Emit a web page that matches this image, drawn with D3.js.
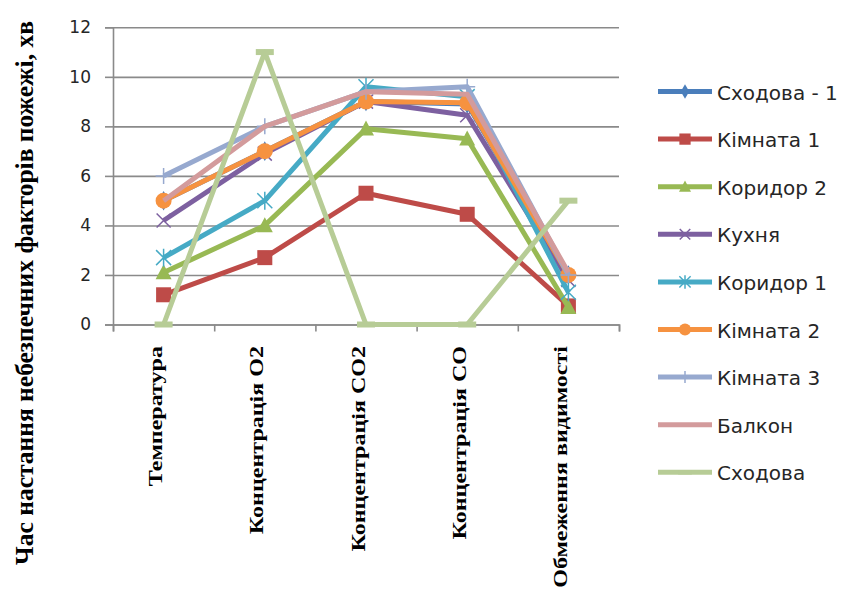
<!DOCTYPE html>
<html>
<head>
<meta charset="utf-8">
<script src="https://cdn.jsdelivr.net/npm/d3@7"></script>
<style>
  html, body { margin: 0; padding: 0; background: #ffffff; }
  svg { display: block; }
</style>
</head>
<body>
<svg id="chart" width="844" height="593"></svg>
<script>
// Categories (hazard factors) along the x axis
const categories = ["Температура", "Концентрація О2", "Концентрація СО2", "Концентрація СО", "Обмеження видимості"];
const yTicks = [0, 2, 4, 6, 8, 10, 12];
const yTitle = "Час настання небезпечних факторів пожежі, хв";

// Series names (rooms) and time values, minutes
const seriesNames = ["Сходова - 1", "Кімната 1", "Коридор 2", "Кухня", "Коридор 1", "Кімната 2", "Кімната 3", "Балкон", "Сходова"];
const stairs1   = [5.0, 7.0, 9.0, 8.9, 2.0];
const room1     = [1.2, 2.7, 5.3, 4.45, 0.75];
const corridor2 = [2.1, 4.0, 7.9, 7.5, 0.7];
const kitchen   = [4.2, 6.9, 9.0, 8.45, 1.8];
const corridor1 = [2.7, 5.0, 9.6, 9.2, 1.3];
const room2     = [5.0, 7.0, 9.0, 8.95, 2.0];
const room3     = [6.0, 8.0, 9.4, 9.6, 2.0];
const balcony   = [5.0, 8.0, 9.4, 9.3, 2.1];
const stairs    = [0, 11, 0, 0, 5];

const seriesValues = [stairs1, room1, corridor2, kitchen, corridor1, room2, room3, balcony, stairs];
const colors  = ["#4a7ebb", "#be4b48", "#98b954", "#7d60a0", "#46aac5", "#f69240", "#97a9cf", "#d39b9c", "#b7cc96"];
const markers = ["diamond", "square", "triangle", "x", "star", "circle", "plus", "none", "dash"];

const svg = d3.select("#chart");
const plot = { left: 113, right: 619, top: 27.3, bottom: 324.5 };

const x = d3.scaleBand().domain(categories).range([plot.left, plot.right]);
const y = d3.scaleLinear().domain([0, 12]).range([plot.bottom, plot.top]);
const cx = c => x(c) + x.bandwidth() / 2;

const gridColor = "#8a8a8a";

// Horizontal gridlines
svg.append("g")
  .attr("transform", `translate(${plot.left},0)`)
  .call(d3.axisLeft(y).tickValues(yTicks).tickSize(-(plot.right - plot.left)).tickFormat(""))
  .call(g => g.select(".domain").remove())
  .call(g => g.selectAll(".tick line").attr("stroke", gridColor).attr("stroke-width", 1.6));

// Y axis with ticks and labels
svg.append("g")
  .attr("transform", `translate(${plot.left},0)`)
  .call(d3.axisLeft(y).tickValues(yTicks).tickSize(8).tickPadding(14))
  .call(g => g.select(".domain").attr("stroke", gridColor).attr("stroke-width", 1.6))
  .call(g => g.selectAll(".tick line").attr("stroke", gridColor).attr("stroke-width", 1.6))
  .call(g => g.selectAll(".tick text")
    .attr("font-family", "DejaVu Sans")
    .attr("font-size", 17)
    .attr("fill", "#262626"));

// X axis: line with tick marks at category boundaries
const boundaries = categories.map(c => x(c)).concat([plot.right]);
svg.append("g")
  .attr("transform", `translate(0,${plot.bottom})`)
  .call(d3.axisBottom(d3.scaleLinear().domain([plot.left, plot.right]).range([plot.left, plot.right]))
    .tickValues(boundaries).tickSize(7).tickFormat(""))
  .call(g => g.select(".domain").attr("stroke", gridColor).attr("stroke-width", 1.6))
  .call(g => g.selectAll(".tick line").attr("stroke", gridColor).attr("stroke-width", 1.6));

// Category labels, rotated and set in a tall serif
svg.append("g").selectAll("text")
  .data(categories)
  .join("text")
  .attr("transform", c => `translate(${cx(c) - 1.5},346) rotate(-90) scale(1.3,1)`)
  .attr("text-anchor", "end")
  .attr("font-family", "Liberation Serif")
  .attr("font-weight", "bold")
  .attr("font-size", 18.5)
  .attr("fill", "#000")
  .text(c => c);

// Y axis title
svg.append("text")
  .attr("transform", "translate(33,293) rotate(-90)")
  .attr("text-anchor", "middle")
  .attr("font-family", "Liberation Serif")
  .attr("font-weight", "bold")
  .attr("font-size", 25.5)
  .attr("fill", "#000")
  .text(yTitle);

// Marker drawing
function drawMarker(g, type, color, s) {
  const k = s;
  if (type === "diamond") {
    g.append("path").attr("d", d3.symbol(d3.symbolDiamond, 110 * k * k)()).attr("fill", color);
  } else if (type === "square") {
    g.append("rect").attr("x", -7.5 * k).attr("y", -7.5 * k).attr("width", 15 * k).attr("height", 15 * k).attr("fill", color);
  } else if (type === "triangle") {
    const h = 15 * k, w = 16 * k;
    g.append("path").attr("d", `M0,${-h * 0.55}L${w / 2},${h * 0.45}L${-w / 2},${h * 0.45}Z`).attr("fill", color);
  } else if (type === "circle") {
    g.append("circle").attr("r", 8 * k).attr("fill", color);
  } else if (type === "x") {
    const r = 7 * k;
    g.append("path").attr("d", `M${-r},${-r}L${r},${r}M${-r},${r}L${r},${-r}`)
      .attr("stroke", color).attr("stroke-width", 1.5).attr("fill", "none");
  } else if (type === "star") {
    const r = 7.5 * k;
    g.append("path").attr("d", `M${-r},${-r}L${r},${r}M${-r},${r}L${r},${-r}M0,${-r * 1.2}L0,${r * 1.2}`)
      .attr("stroke", color).attr("stroke-width", 1.5).attr("fill", "none");
  } else if (type === "plus") {
    const r = 8 * k;
    g.append("path").attr("d", `M0,${-r}L0,${r}M${-r},0L${r},0`)
      .attr("stroke", color).attr("stroke-width", 1.5).attr("fill", "none");
  } else if (type === "dash") {
    g.append("rect").attr("x", -9 * k).attr("y", -3 * k).attr("width", 18 * k).attr("height", 6 * k).attr("fill", color);
  }
}

const line = d3.line().x(d => cx(d.c)).y(d => y(d.v));

// Series lines with markers, drawn in order so later series sit on top
seriesNames.forEach((name, i) => {
  const pts = categories.map((c, j) => ({ c, v: seriesValues[i][j] }));
  const g = svg.append("g");
  g.append("path")
    .attr("d", line(pts))
    .attr("fill", "none")
    .attr("stroke", colors[i])
    .attr("stroke-width", 5)
    .attr("stroke-linejoin", "round");
  g.selectAll("g.m")
    .data(pts)
    .join("g")
    .attr("class", "m")
    .attr("transform", d => `translate(${cx(d.c)},${y(d.v)})`)
    .each(function () { drawMarker(d3.select(this), markers[i], colors[i], 1); });
});

// Legend
const legend = svg.append("g");
seriesNames.forEach((name, i) => {
  const ly = 91.5 + i * 47.6;
  const g = legend.append("g").attr("transform", `translate(0,${ly})`);
  g.append("line").attr("x1", 658).attr("x2", 712).attr("y1", 0).attr("y2", 0)
    .attr("stroke", colors[i]).attr("stroke-width", 5);
  const m = g.append("g").attr("transform", "translate(685,0)");
  drawMarker(m, markers[i], colors[i], 0.75);
  g.append("text")
    .attr("x", 717)
    .attr("y", 1)
    .attr("dominant-baseline", "central")
    .attr("font-family", "DejaVu Sans")
    .attr("font-size", 20)
    .attr("fill", "#262626")
    .text(name);
});
</script>
</body>
</html>
